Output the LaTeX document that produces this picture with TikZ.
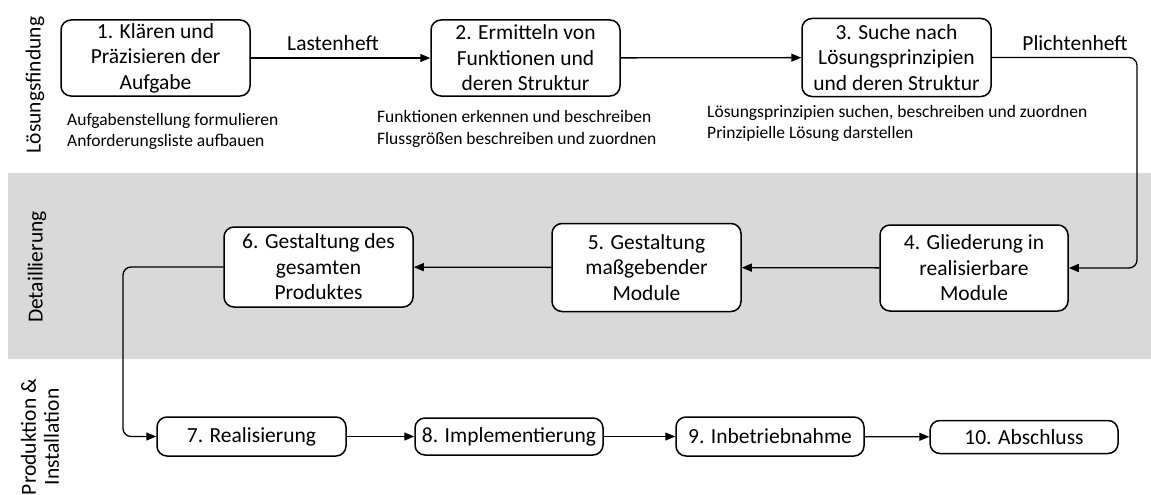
\documentclass[tikz,border=0pt]{standalone}
\usepackage{fontspec}
\setmainfont{Carlito}
\usetikzlibrary{arrows.meta}

\definecolor{bandgray}{HTML}{D9D9D9}

\tikzset{
  stage/.style={draw=black, fill=white, line width=1.5pt, rounded corners=10pt,
    align=center, inner sep=0pt, minimum width=189pt,
    font=\fontsize{21.5}{25.5}\selectfont},
  flow/.style={line width=1.3pt, -{Triangle[length=10pt,width=8pt]}},
  elbowflow/.style={flow, rounded corners=8pt},
  note/.style={align=left, inner sep=0pt, anchor=base west,
    font=\fontsize{17.5}{21.5}\selectfont},
  flowlabel/.style={inner sep=0pt, font=\fontsize{21.5}{25.5}\selectfont},
  phase/.style={rotate=90, align=center, inner sep=0pt,
    font=\fontsize{21.5}{23}\selectfont}
}

\begin{document}
\begin{tikzpicture}[x=1pt,y=-1pt]
\useasboundingbox (0,0) rectangle (1151,495);

% band of the detailing phase
\fill[bandgray] (8,173) rectangle (1151,359);

% phase labels
\node[phase] (p1) at (35,85) {Lösungsfindung};
\node[phase] (p2) at (37,267) {Detaillierung};
\node[phase] (p3) at (40,437) {Produktion \&\\Installation};

% first row
\node[stage, minimum height=76pt] (s1) at (155.5,58) {1. Klären und\\Präzisieren der\\Aufgabe};
\node[stage, minimum height=76pt] (s2) at (525.5,58) {2. Ermitteln von\\Funktionen und\\deren Struktur};
\node[stage, minimum height=78pt] (s3) at (896.5,57.5) {3. Suche nach\\Lösungsprinzipien\\und deren Struktur};

% second row
\node[stage, minimum width=188pt, minimum height=86pt] (s4) at (974,268) {4. Gliederung in\\realisierbare\\Module};
\node[stage, minimum height=88pt] (s5) at (646.5,267.5) {5. Gestaltung\\maßgebender\\Module};
\node[stage, minimum height=80pt] (s6) at (318.5,267) {6. Gestaltung des\\gesamten\\Produktes};

% third row
\node[stage, minimum height=39pt] (s7) at (251.5,436.5) {7. Realisierung};
\node[stage, minimum width=188pt, minimum height=37pt] (s8) at (509,436.5) {8. Implementierung};
\node[stage, minimum width=188pt, minimum height=39pt] (s9) at (770,436.5) {9. Inbetriebnahme};
\node[stage, minimum width=188pt, minimum height=33pt] (s10) at (1024,437) {10. Abschluss};

% activities below the first row (anchored at the baseline of the last line)
\node[note] (n1) at (67,146.5) {Aufgabenstellung formulieren\\Anforderungsliste aufbauen};
\node[note] (n2) at (377,144) {Funktionen erkennen und beschreiben\\Flussgrößen beschreiben und zuordnen};
\node[note] (n3) at (707,138.5) {Lösungsprinzipien suchen, beschreiben und zuordnen\\Prinzipielle Lösung darstellen};

% documents passed between the steps
\node[flowlabel] (l1) at (333,43) {Lastenheft};
\node[flowlabel] (l2) at (1075,43) {Plichtenheft};

% turning points of the long connectors
\coordinate (r1) at (1137,160);
\coordinate (r2) at (123,350);

% connectors
\draw[flow] (s1) -- (s2);
\draw[flow] (s2) -- (s3);
\draw[elbowflow] (s3.east) -| (r1) |- (s4.east);
\draw[flow] (s4) -- (s5);
\draw[flow] (s5) -- (s6);
\draw[elbowflow] (s6.west) -| (r2) |- (s7.west);
\draw[flow] (s7) -- (s8);
\draw[flow] (s8) -- (s9);
\draw[flow] (s9) -- (s10);
\end{tikzpicture}
\end{document}
